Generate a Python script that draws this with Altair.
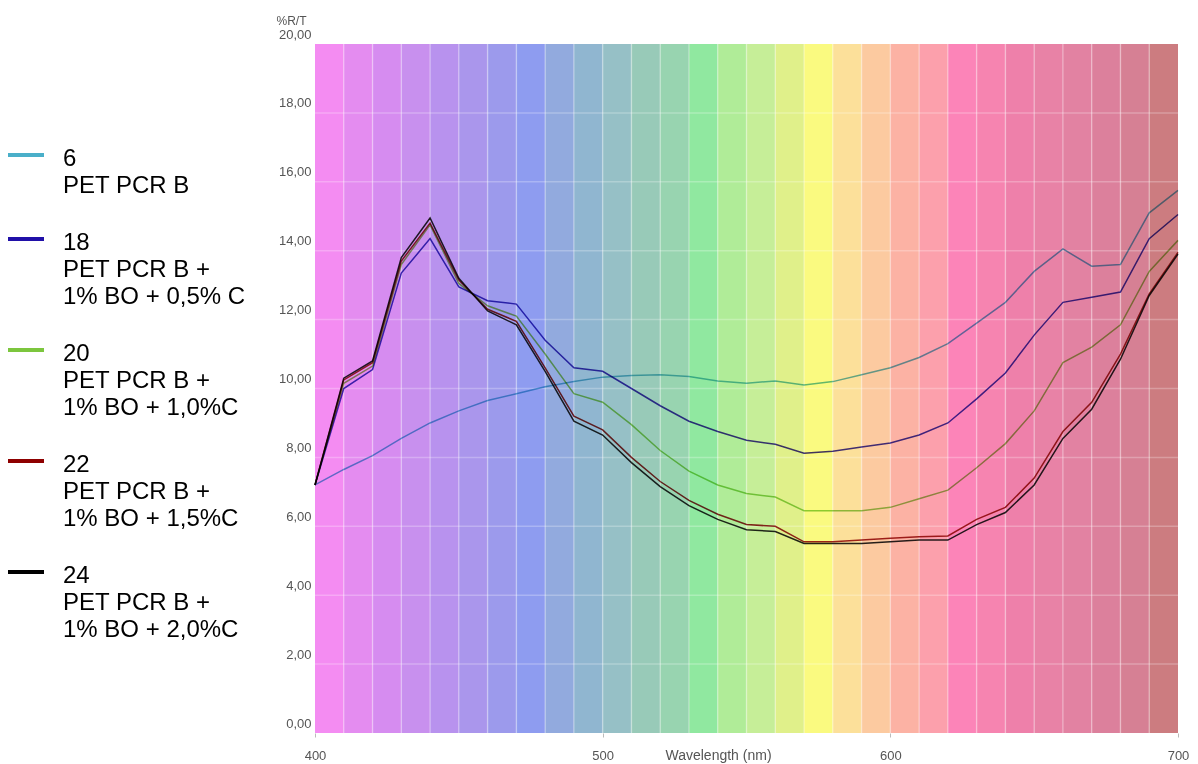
import altair as alt
import pandas as pd

# ---- data ----
wavelength = list(range(400, 701, 10))

r6 = [7.2, 7.65, 8.05, 8.55, 9.0, 9.35, 9.65, 9.85, 10.05, 10.2,
      10.33, 10.38, 10.4, 10.35, 10.22, 10.15, 10.22, 10.1, 10.2, 10.4,
      10.6, 10.9, 11.3, 11.9, 12.5, 13.4, 14.05, 13.55, 13.6, 15.1, 15.75]
r18 = [7.2, 10.0, 10.55, 13.35, 14.35, 12.95, 12.55, 12.45, 11.4, 10.6,
       10.5, 10.0, 9.5, 9.05, 8.75, 8.5, 8.38, 8.12, 8.18, 8.3,
       8.42, 8.65, 9.0, 9.7, 10.45, 11.55, 12.5, 12.65, 12.8, 14.35, 15.05]
r20 = [7.2, 10.15, 10.65, 13.6, 14.75, 13.05, 12.4, 12.1, 11.0, 9.85,
       9.6, 8.95, 8.2, 7.6, 7.2, 6.95, 6.85, 6.45, 6.45, 6.45,
       6.55, 6.8, 7.05, 7.7, 8.4, 9.35, 10.75, 11.2, 11.85, 13.4, 14.3]
r22 = [7.2, 10.25, 10.75, 13.7, 14.8, 13.15, 12.3, 11.95, 10.6, 9.2,
       8.8, 8.0, 7.3, 6.75, 6.35, 6.05, 6.0, 5.55, 5.55, 5.6,
       5.65, 5.7, 5.72, 6.2, 6.55, 7.4, 8.75, 9.6, 11.0, 12.75, 13.95]
r24 = [7.2, 10.3, 10.8, 13.8, 14.95, 13.2, 12.25, 11.85, 10.5, 9.05,
       8.65, 7.85, 7.15, 6.6, 6.2, 5.9, 5.85, 5.5, 5.5, 5.5,
       5.55, 5.6, 5.6, 6.05, 6.4, 7.2, 8.55, 9.4, 10.85, 12.7, 13.9]

series_labels = ["6|PET PCR B",
                 "18|PET PCR B +|1% BO + 0,5% C",
                 "20|PET PCR B +|1% BO + 1,0%C",
                 "22|PET PCR B +|1% BO + 1,5%C",
                 "24|PET PCR B +|1% BO + 2,0%C"]
series_colors = ["#4aafc9", "#2010a8", "#7cc63e", "#8e0000", "#000000"]

band_starts = list(range(400, 700, 10))
band_colors = ["#f48cf2", "#e48cf0", "#d68cf0", "#c890ee", "#b892ee",
               "#aa96ec", "#9c9aec", "#8e9cf0", "#92aade", "#90b6d0",
               "#96c0c6", "#98cab8", "#98d4b0", "#90e8a0", "#b0ec98",
               "#c6ee98", "#e0f08a", "#fafa80", "#fce09a", "#fccaa0",
               "#fcb2a4", "#fca0ac", "#fc84b8", "#f684b0", "#ee80aa",
               "#e882a6", "#e282a2", "#dc809c", "#d68094", "#cc7c80"]

y_ticks = [0, 2, 4, 6, 8, 10, 12, 14, 16, 18, 20]
x_ticks = [400, 500, 600, 700]

# ---- tables ----
rows = []
for lab, vals in zip(series_labels, [r6, r18, r20, r22, r24]):
    for w, v in zip(wavelength, vals):
        rows.append({"wl": w, "r": v, "series": lab})
lines_df = pd.DataFrame(rows)
bands_df = pd.DataFrame({"wl": band_starts,
                         "end": [s + 10 for s in band_starts],
                         "fill": band_colors})
vgrid_df = pd.DataFrame({"wl": band_starts[1:]})
hgrid_df = pd.DataFrame({"r": y_ticks[1:-1]})

W, H = 863, 689
FONT = "Liberation Sans"

xscale = alt.Scale(domain=[400, 700], nice=False, zero=False)
yscale = alt.Scale(domain=[0, 20], nice=False, zero=True)
cscale = alt.Scale(domain=series_labels, range=series_colors)

xaxis = alt.Axis(values=x_ticks, title="Wavelength (nm)", titleX=403, titleY=22,
                 titleBaseline="middle", titleAlign="center", titleFontWeight="normal",
                 titleFontSize=14, titleColor="#555555", titleFont=FONT,
                 labelFont=FONT, labelFontSize=13, labelColor="#555555",
                 labelFlush=False, labelPadding=12, tickSize=4, tickColor="#bbbbbb",
                 domain=False, grid=False)
yaxis = alt.Axis(values=y_ticks, title="%R/T", titleAngle=0, titleX=-39, titleY=-24,
                 titleAlign="left", titleBaseline="middle", titleFontWeight="normal",
                 titleFontSize=12, titleColor="#555555", titleFont=FONT,
                 labelExpr="replace(format(datum.value, '.2f'), '.', ',')",
                 labelFont=FONT, labelFontSize=13, labelColor="#555555",
                 labelPadding=4, labelOffset=-10, ticks=False, domain=False, grid=False)

X = alt.X("wl:Q", scale=xscale, axis=xaxis)

bands = alt.Chart(bands_df).mark_rect().encode(
    x=X, x2="end:Q", y=alt.value(0), y2=alt.value(H),
    color=alt.Color("fill:N", scale=None))

vgrid = alt.Chart(vgrid_df).mark_rule(color="white", opacity=0.3, strokeWidth=1.5).encode(x=X)
hgrid = alt.Chart(hgrid_df).mark_rule(color="white", opacity=0.25, strokeWidth=1.5).encode(
    y=alt.Y("r:Q", scale=yscale, axis=yaxis))

lines = alt.Chart(lines_df).mark_line(strokeWidth=1.5, opacity=0.85, blend="multiply").encode(
    x=X,
    y=alt.Y("r:Q", scale=yscale, axis=yaxis),
    color=alt.Color("series:N", scale=cscale, legend=None))

# ---- hand-drawn legend at the left of the plot ----
LINE_H, GAP, FIRST = 27, 30, 115
legend_layers = []
pos = FIRST
for lab in series_labels:
    one = pd.DataFrame({"series": [lab]})
    sym = alt.Chart(one).mark_rule(strokeWidth=4).encode(
        x=alt.value(-307), x2=alt.value(-271), y=alt.value(pos - 4),
        color=alt.Color("series:N", scale=cscale, legend=None))
    txt = alt.Chart(one).mark_text(align="left", baseline="middle", font=FONT,
                                   fontSize=24, lineBreak="|", lineHeight=LINE_H,
                                   color="black").encode(
        x=alt.value(-252), y=alt.value(pos), text="series:N")
    legend_layers += [sym, txt]
    pos += len(lab.split("|")) * LINE_H + GAP

chart = alt.layer(bands, vgrid, hgrid, lines, *legend_layers).properties(
    width=W, height=H,
    padding={"left": 315, "top": 44, "right": 20, "bottom": 31},
    autosize=alt.AutoSizeParams(type="none"),
).configure_view(stroke=None)

chart.save("out.html", embed_options={"renderer": "svg", "actions": False})
